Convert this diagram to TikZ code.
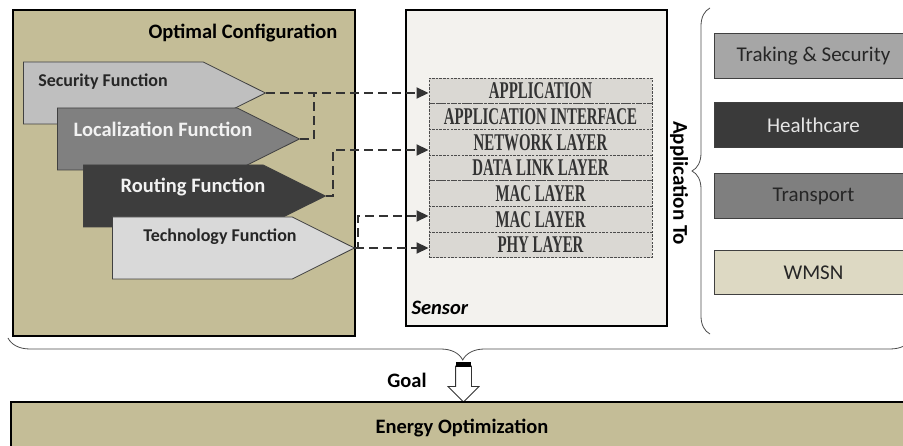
\documentclass[tikz,border=0pt]{standalone}
\usepackage{fontspec}
\setmainfont{Carlito}
\newfontfamily\layerfont[FakeStretch=0.62]{Liberation Serif}
\usepackage{tikz}
\usetikzlibrary{shapes.symbols, shapes.arrows, arrows.meta, decorations.pathreplacing}

\definecolor{cfgtan}{HTML}{C4BD97}
\definecolor{sensorbg}{HTML}{F3F2EE}
\definecolor{layergray}{HTML}{DAD8D3}
\definecolor{secgray}{HTML}{BFBFBF}
\definecolor{locgray}{HTML}{808080}
\definecolor{routgray}{HTML}{3D3D3D}
\definecolor{techgray}{HTML}{D9D9D9}
\definecolor{trakgray}{HTML}{A6A6A6}
\definecolor{healthgray}{HTML}{3A3A3A}
\definecolor{transgray}{HTML}{7F7F7F}
\definecolor{wmsnbeige}{HTML}{DDD9C3}

\tikzset{
	frame/.style={draw=black, line width=2pt, inner sep=0pt},
	func/.style={signal, signal to=east, signal pointer angle=53, draw=black!75, line width=0.8pt, minimum width=242pt, minimum height=62pt, inner sep=0pt, anchor=west},
	functext/.style={font=\bfseries\fontsize{20.5}{22}\selectfont},
	layerbox/.style={draw=black!70, dash pattern=on 2.5pt off 1.2pt, line width=0.9pt, fill=layergray, minimum width=223pt, minimum height=25.7pt, inner sep=0pt, text=black!80, font=\layerfont\bfseries\fontsize{24}{24}\selectfont},
	appbox/.style={draw=black!75, line width=1pt, minimum width=198pt, minimum height=45pt, inner sep=0pt, anchor=north west, font=\fontsize{21}{22}\selectfont},
	dashline/.style={draw=black!80, line width=1.8pt, dash pattern=on 9pt off 5pt},
	dasharrow/.style={dashline, -{Triangle[length=12pt, width=11pt]}},
	curly/.style={draw=black!70, line width=0.8pt, decorate},
}

\begin{document}
\begin{tikzpicture}[x=1pt, y=-1pt]
	\useasboundingbox (0,0) rectangle (903,446);
	\clip (0,0) rectangle (903,446);

	\node[frame, fill=cfgtan, minimum width=342pt, minimum height=326pt, anchor=north west] (cfg) at (12,9) {};
	\node[frame, fill=sensorbg, minimum width=261pt, minimum height=316pt, anchor=north west] (sensor) at (405,9) {};
	\node[functext] (cfgtitle) at (243,33) {Optimal Configuration};

	\node[func, fill=secgray] (sec) at (23,93) {};
	\node[functext, text=black!85, font=\bfseries\fontsize{18}{20}\selectfont] (sectext) at (103,82) {Security Function};
	\node[func, fill=locgray] (loc) at (57,139) {};
	\node[functext, text=white!95!black] (loctext) at (163,129) {Localization Function};
	\node[func, fill=routgray] (rout) at (83,196) {};
	\node[functext, text=white!95!black] (routtext) at (193,187) {Routing Function};
	\node[func, fill=techgray] (tech) at (112,248) {};
	\node[functext, text=black!85, font=\bfseries\fontsize{18}{20}\selectfont] (techtext) at (220,237) {Technology Function};

	\node[layerbox] (app) at (540.5,90.85) {APPLICATION};
	\node[layerbox] (api) at (540.5,116.55) {APPLICATION INTERFACE};
	\node[layerbox] (net) at (540.5,142.25) {NETWORK LAYER};
	\node[layerbox] (dll) at (540.5,167.95) {DATA LINK LAYER};
	\node[layerbox] (mac) at (540.5,193.65) {MAC LAYER};
	\node[layerbox] (mactwo) at (540.5,219.35) {MAC LAYER};
	\node[layerbox] (phy) at (540.5,245.05) {PHY LAYER};
	\node[anchor=west, font=\bfseries\itshape\fontsize{20.5}{22}\selectfont] (sensortext) at (408,308) {Sensor};

	\coordinate (locbend) at (314,93);
	\coordinate (routbend) at (333,150);
	\coordinate (techbend) at (358,216);
	\draw[dasharrow] (sec.east) -- (sec.east -| app.west);
	\draw[dashline] (loc.east) -| (locbend);
	\draw[dasharrow] (rout.east) -| (routbend) -- (routbend -| net.west);
	\draw[dasharrow] (tech.east) -| (techbend) -- (techbend -| mactwo.west);
	\draw[dasharrow] (tech.east) -- (tech.east -| phy.west);

	\node[rotate=-90, font=\bfseries\fontsize{21}{22}\selectfont] (appto) at (679,183) {Application To};
	\draw[curly, decoration={brace, amplitude=18pt}] (710,334) -- (710,8);

	\node[appbox, fill=trakgray, text=black!85] (trak) at (714,33) {Traking \& Security};
	\node[appbox, fill=healthgray, text=white!90!black] (health) at (714,102) {Healthcare};
	\node[appbox, fill=transgray, text=black!85] (trans) at (714,173) {Transport};
	\node[appbox, fill=wmsnbeige, text=black!85, minimum height=44pt] (wmsn) at (714,250) {WMSN};

	\draw[curly, decoration={brace, mirror, amplitude=22pt, aspect=0.503}] (8,338) -- (912,338);

	\node[single arrow, draw=black!80, fill=white, line width=0.8pt, shape border rotate=270, minimum height=36pt, inner sep=7.5pt, single arrow head extend=7.5pt] (goalarrow) at (463.5,380) {};
	\node[fill=black, minimum width=15pt, minimum height=5pt, inner sep=0pt] (goalcap) at (463.5,364.5) {};
	\node[functext] (goal) at (407,380) {Goal};

	\node[frame, fill=cfgtan, minimum width=902pt, minimum height=52pt, anchor=north west, font=\bfseries\fontsize{20.5}{22}\selectfont] (energy) at (10,401) {Energy Optimization};

\end{tikzpicture}
\end{document}
